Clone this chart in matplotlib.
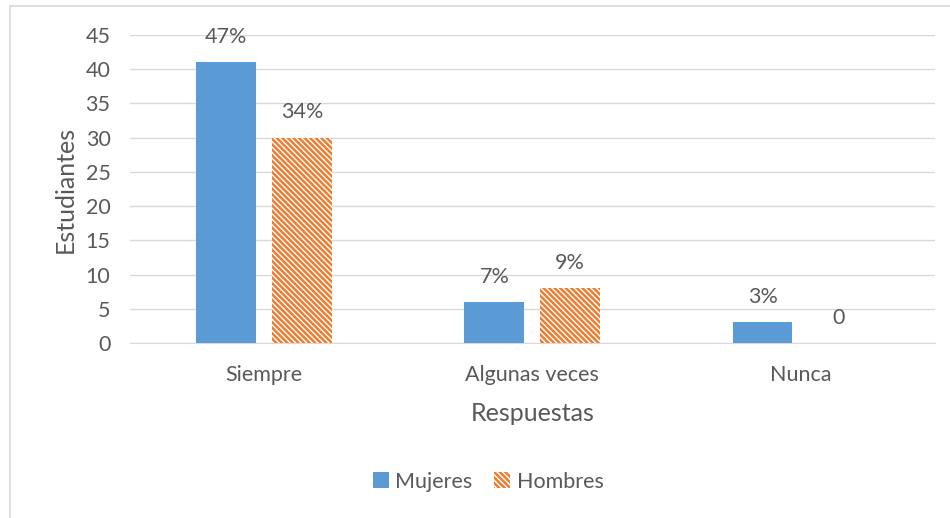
import matplotlib
matplotlib.use('Agg')
import matplotlib.pyplot as plt
import numpy as np
from matplotlib.lines import Line2D

categorias = ['Siempre', 'Algunas veces', 'Nunca']
mujeres = [41, 6, 3]
hombres = [30, 8, 0]
etiq_mujeres = ['47%', '7%', '3%']
etiq_hombres = ['34%', '9%', '0']

plt.rcParams['font.family'] = ['Lato', 'DejaVu Sans']
plt.rcParams['hatch.linewidth'] = 1.8
txt = '#595959'
grid_c = '#d9d9d9'
azul = '#5B9BD5'
naranja = '#ED7D31'

fig = plt.figure(figsize=(9.5, 5.18), dpi=100)
ax = fig.add_axes([0.1368, 0.3378, 0.847, 0.5946])

x = np.arange(len(categorias))
w = 0.223
gap = 0.06
b1 = ax.bar(x - (w + gap) / 2, mujeres, w, color=azul, label='Mujeres', zorder=3)
b2 = ax.bar(x + (w + gap) / 2, hombres, w, color='white', edgecolor=naranja,
            linewidth=0, hatch='\\\\\\\\\\\\', label='Hombres', zorder=3)

for rect, lab in zip(b1, etiq_mujeres):
    ax.annotate(lab, (rect.get_x() + rect.get_width() / 2, rect.get_height()),
                xytext=(0, 11), textcoords='offset points', ha='center',
                va='bottom', fontsize=15.5, color=txt)
for rect, lab in zip(b2, etiq_hombres):
    ax.annotate(lab, (rect.get_x() + rect.get_width() / 2, rect.get_height()),
                xytext=(0, 11), textcoords='offset points', ha='center',
                va='bottom', fontsize=15.5, color=txt)

ax.set_xlim(-0.5, 2.5)
ax.set_ylim(0, 45)
ax.set_yticks(range(0, 46, 5))
ax.set_xticks(x)
ax.set_xticklabels(categorias)
ax.grid(axis='y', color=grid_c, lw=1, zorder=0)
for s in ['top', 'right', 'left']:
    ax.spines[s].set_visible(False)
ax.spines['bottom'].set_color(grid_c)
ax.tick_params(axis='both', length=0, labelsize=15.5, colors=txt)
ax.tick_params(axis='y', pad=14)
ax.tick_params(axis='x', pad=16)
ax.set_ylabel('Estudiantes', fontsize=18, color=txt, labelpad=6)
ax.set_xlabel('Respuestas', fontsize=18, color=txt, labelpad=12)

leg = fig.legend(handles=[b1, b2], loc='center', bbox_to_anchor=(0.514, 0.07),
                 ncol=2, frameon=False, fontsize=15.5, handlelength=0.75,
                 handleheight=0.75, handletextpad=0.3, columnspacing=1.0)
for t in leg.get_texts():
    t.set_color(txt)

# chart area border (top and left visible)
fig.add_artist(Line2D([9.5 / 950, 9.5 / 950], [0, 1 - 6 / 518], color=grid_c,
                      lw=1.2, transform=fig.transFigure))
fig.add_artist(Line2D([9.5 / 950, 1], [1 - 6 / 518, 1 - 6 / 518], color=grid_c,
                      lw=1.2, transform=fig.transFigure))

fig.savefig('out.png', dpi=100)
